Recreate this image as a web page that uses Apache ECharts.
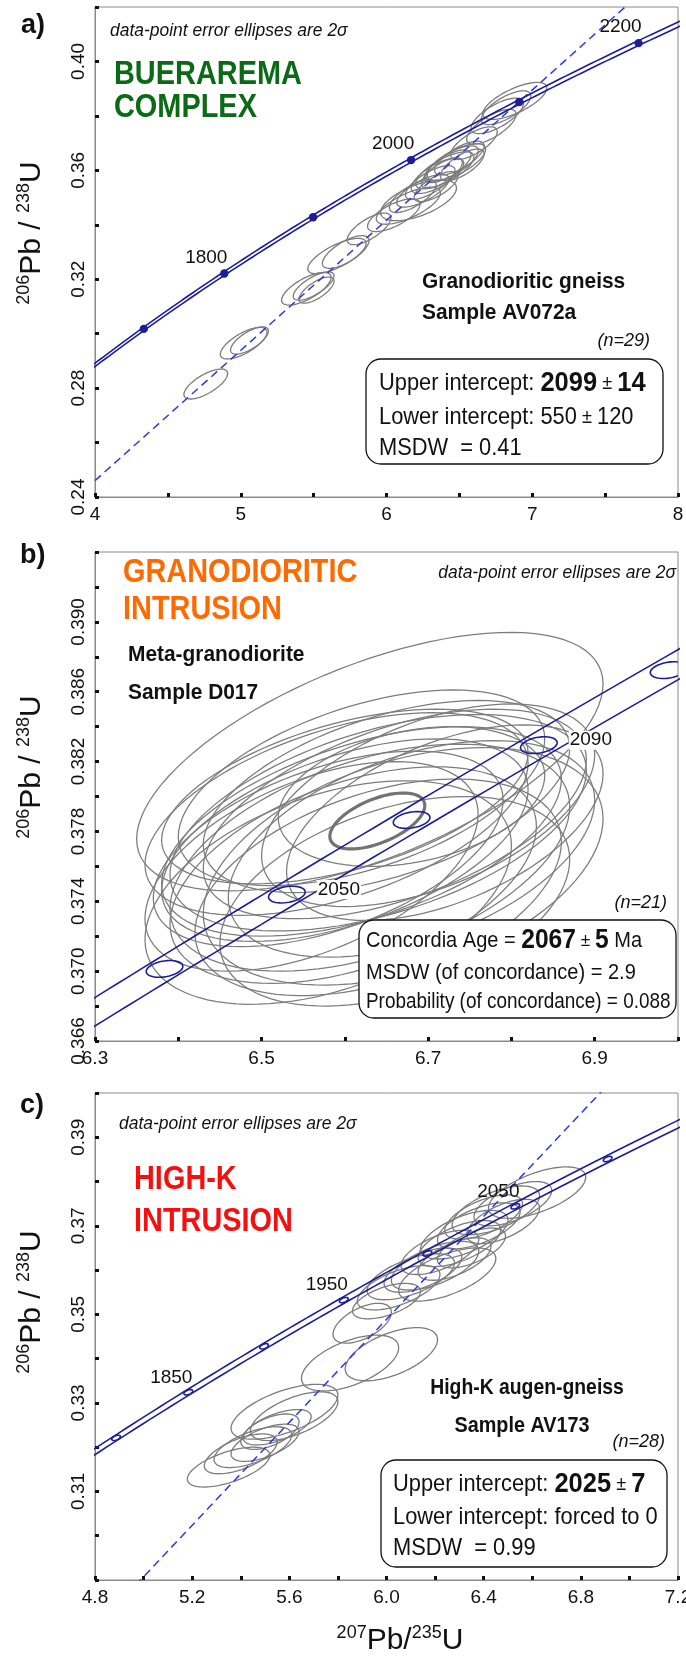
<!DOCTYPE html>
<html>
<head>
<meta charset="utf-8">
<script src="https://cdn.jsdelivr.net/npm/echarts@6/dist/echarts.min.js"></script>
<style>
  html, body { margin: 0; padding: 0; background: #fff; }
  #chart { width: 686px; height: 1657px; }
</style>
</head>
<body>
<div id="chart"></div>
<script>
// U decay constants (1/yr) used to trace the concordia curve
const LAMBDA_238 = 1.55125e-10;
const LAMBDA_235 = 9.8485e-10;
const BAND = 0.0019; // relative lambda-235 spread drawn as the double concordia line

// ---- a) Buerarema complex, granodioritic gneiss AV072a (2-sigma ellipses) ----
const aX   = [4.76, 5.02, 5.06, 5.45, 5.50, 5.52, 5.66, 5.72, 5.88, 6.05, 6.15, 6.22, 6.18, 6.25, 6.30, 6.34, 6.35, 6.38, 6.40, 6.42, 6.45, 6.48, 6.50, 6.52, 6.60, 6.72, 6.76, 6.82, 6.88];
const aY   = [0.2815, 0.2965, 0.2975, 0.3165, 0.3175, 0.3160, 0.3285, 0.3300, 0.3385, 0.3435, 0.3470, 0.3490, 0.3505, 0.3525, 0.3555, 0.3540, 0.3580, 0.3590, 0.3600, 0.3615, 0.3625, 0.3630, 0.3645, 0.3620, 0.3700, 0.3760, 0.3800, 0.3830, 0.3855];
const aSX  = [0.15, 0.16, 0.13, 0.17, 0.14, 0.12, 0.20, 0.16, 0.15, 0.18, 0.22, 0.26, 0.16, 0.18, 0.17, 0.15, 0.18, 0.14, 0.20, 0.16, 0.18, 0.20, 0.17, 0.15, 0.16, 0.17, 0.18, 0.17, 0.22];
const aSY  = [0.0055, 0.0058, 0.0050, 0.0060, 0.0052, 0.0048, 0.0065, 0.0060, 0.0058, 0.0060, 0.0068, 0.0075, 0.0060, 0.0060, 0.0062, 0.0055, 0.0065, 0.0055, 0.0068, 0.0060, 0.0065, 0.0068, 0.0062, 0.0058, 0.0060, 0.0064, 0.0065, 0.0062, 0.0068];
const aRho = [0.70, 0.70, 0.70, 0.70, 0.72, 0.70, 0.72, 0.70, 0.70, 0.68, 0.70, 0.60, 0.70, 0.72, 0.72, 0.70, 0.70, 0.70, 0.72, 0.70, 0.72, 0.70, 0.72, 0.70, 0.70, 0.72, 0.70, 0.70, 0.70];
const aAges = [1700, 1800, 1900, 2000, 2100, 2200];
const aAgeLabels = [1800, 2000, 2200];
const aUpperAge = 2099;
const aLowerAge = 550;

// ---- b) Granodioritic intrusion, meta-granodiorite D017 ----
const bX   = [6.62, 6.60, 6.64, 6.58, 6.66, 6.63, 6.61, 6.68, 6.59, 6.65, 6.70, 6.56, 6.67, 6.64, 6.62, 6.72, 6.60, 6.63, 6.68, 6.58, 6.66];
const bY   = [0.3780, 0.3775, 0.3785, 0.3770, 0.3790, 0.3765, 0.3755, 0.3770, 0.3790, 0.3800, 0.3795, 0.3760, 0.3760, 0.3748, 0.3805, 0.3785, 0.3800, 0.3820, 0.3800, 0.3745, 0.3740];
const bSX  = [0.24, 0.22, 0.25, 0.21, 0.23, 0.24, 0.22, 0.22, 0.23, 0.22, 0.20, 0.20, 0.24, 0.22, 0.22, 0.19, 0.22, 0.28, 0.16, 0.22, 0.21];
const bSY  = [0.0060, 0.0058, 0.0062, 0.0056, 0.0060, 0.0065, 0.0062, 0.0062, 0.0058, 0.0055, 0.0058, 0.0060, 0.0068, 0.0062, 0.0056, 0.0056, 0.0050, 0.0074, 0.0040, 0.0064, 0.0060];
const bRho = [0.50, 0.50, 0.48, 0.50, 0.52, 0.45, 0.45, 0.45, 0.50, 0.50, 0.50, 0.50, 0.40, 0.42, 0.50, 0.50, 0.50, 0.60, 0.30, 0.42, 0.40];
// concordia-age ellipse: x, y, sx, sy, rho
const bMeanEllipse = [6.639, 0.3786, 0.057, 0.0016, 0.55];
const bAges = [2030, 2050, 2070, 2090, 2110];
const bAgeLabels = [2050, 2090];

// ---- c) High-K intrusion, augen-gneiss AV173 ----
const cX   = [5.35, 5.40, 5.45, 5.50, 5.55, 5.58, 5.62, 5.52, 5.85, 6.02, 5.90, 6.00, 6.05, 6.10, 6.15, 6.20, 6.22, 6.28, 6.30, 6.32, 6.38, 6.40, 6.45, 6.48, 6.52, 6.62, 6.35, 6.25];
const cY   = [0.3155, 0.3185, 0.3200, 0.3210, 0.3245, 0.3280, 0.3270, 0.3235, 0.3390, 0.3410, 0.3480, 0.3530, 0.3560, 0.3585, 0.3600, 0.3610, 0.3640, 0.3625, 0.3660, 0.3680, 0.3700, 0.3720, 0.3735, 0.3710, 0.3750, 0.3775, 0.3650, 0.3590];
const cSX  = [0.17, 0.15, 0.16, 0.14, 0.14, 0.22, 0.18, 0.12, 0.20, 0.19, 0.12, 0.14, 0.17, 0.18, 0.16, 0.18, 0.16, 0.15, 0.17, 0.18, 0.17, 0.16, 0.18, 0.15, 0.16, 0.20, 0.14, 0.20];
const cSY  = [0.0045, 0.0045, 0.0046, 0.0042, 0.0040, 0.0062, 0.0055, 0.0040, 0.0063, 0.0060, 0.0045, 0.0040, 0.0050, 0.0052, 0.0050, 0.0055, 0.0050, 0.0048, 0.0052, 0.0055, 0.0052, 0.0050, 0.0055, 0.0050, 0.0050, 0.0058, 0.0045, 0.0060];
const cRho = [0.60, 0.60, 0.60, 0.60, 0.60, 0.60, 0.60, 0.55, 0.55, 0.55, 0.55, 0.55, 0.60, 0.60, 0.60, 0.60, 0.60, 0.60, 0.60, 0.60, 0.60, 0.60, 0.60, 0.60, 0.60, 0.60, 0.60, 0.60];
const cAges = [1800, 1850, 1900, 1950, 2000, 2050, 2100];
const cAgeLabels = [1850, 1950, 2050];
const cUpperAge = 2025;
const cLowerAge = 0;

// ---- styling ----
const SANS = "'Liberation Sans', Arial, sans-serif";
const NARROW = "'Liberation Sans Narrow', 'Liberation Sans', Arial, sans-serif";
const NAVY = '#1d1d9a';
const DASH = '#2b3de0';
const GREY = '#7c7c7c';
const INK = '#111111';
// horizontal squeeze giving the condensed look of the annotation type
const SQ_TITLE = 0.85, SQ_BOX = 0.91, SQ_NOTE = 0.97, SQ_SAMPLE = 0.95;

// ---- helpers ----
function concX(tMa, k) { return Math.exp(LAMBDA_235 * (1 + k) * tMa * 1e6) - 1; }
function concY(tMa) { return Math.exp(LAMBDA_238 * tMa * 1e6) - 1; }

function concordiaLine(t0, t1, step, k) {
  const pts = [];
  for (let t = t0; t <= t1 + 1e-9; t += step) pts.push([concX(t, k), concY(t)]);
  return pts;
}

function discordia(tUp, tLow, xFrom, xTo) {
  const x1 = concX(tLow, 0), y1 = concY(tLow);
  const x2 = concX(tUp, 0), y2 = concY(tUp);
  const s = (y2 - y1) / (x2 - x1);
  return [[xFrom, y1 + (xFrom - x1) * s], [xTo, y1 + (xTo - x1) * s]];
}

function zipEllipses(xs, ys, sxs, sys, rhos) {
  return xs.map((x, i) => [x, ys[i], sxs[i], sys[i], rhos[i]]);
}

function ellipsePoints(api, cx, cy, sx, sy, rho, n) {
  const r = Math.sqrt(Math.max(0, 1 - rho * rho));
  const pts = [];
  for (let i = 0; i < n; i++) {
    const a = 2 * Math.PI * i / n;
    pts.push(api.coord([cx + sx * Math.cos(a), cy + sy * (rho * Math.cos(a) + r * Math.sin(a))]));
  }
  return pts;
}

function ellipseRenderer(stroke, width) {
  return function (params, api) {
    return {
      type: 'polygon',
      shape: { points: ellipsePoints(api, api.value(0), api.value(1), api.value(2), api.value(3), api.value(4), 96) },
      style: { fill: 'none', stroke: stroke, lineWidth: width }
    };
  };
}

// age ticks on the concordia: dots (a) or small decay-constant ellipses (b, c)
function markerRenderer(kind, msx, msy, mrho, dx, dy, bg) {
  return function (params, api) {
    const x = api.value(0), y = api.value(1), age = api.value(2), lab = api.value(3);
    const p = api.coord([x, y]);
    const children = [];
    if (kind === 'dot') {
      children.push({ type: 'circle', shape: { cx: p[0], cy: p[1], r: 4.2 }, style: { fill: NAVY } });
    } else {
      children.push({
        type: 'polygon',
        shape: { points: ellipsePoints(api, x, y, msx, msy, mrho, 48) },
        style: { fill: 'none', stroke: NAVY, lineWidth: 1.6 }
      });
    }
    if (lab) {
      children.push({
        type: 'text', x: p[0] + dx, y: p[1] + dy,
        style: {
          text: String(age), font: '19px ' + SANS, fill: INK,
          align: 'center', verticalAlign: 'middle',
          textAlign: 'center', textVerticalAlign: 'middle',
          backgroundColor: bg || 'transparent', padding: bg ? [0, 1] : 0
        }
      });
    }
    return { type: 'group', children: children };
  };
}

function markers(ages, labels) {
  return ages.map(t => [concX(t, 0), concY(t), t, labels.indexOf(t) >= 0 ? 1 : 0]);
}

function axisX(i, min, max, interval, formatter) {
  return {
    type: 'value', gridIndex: i, min: min, max: max, interval: interval,
    axisLine: { show: true, onZero: false, lineStyle: { color: '#8a8a8a', width: 1 } },
    axisTick: { show: true, inside: true, length: 4, lineStyle: { color: INK, width: 3 } },
    splitLine: { show: false },
    axisLabel: { color: INK, fontSize: 19, fontFamily: SANS, margin: 8, formatter: formatter, hideOverlap: false, showMinLabel: true, showMaxLabel: true }
  };
}

function axisY(i, min, max, interval, formatter) {
  return {
    type: 'value', gridIndex: i, min: min, max: max, interval: interval,
    axisLine: { show: true, onZero: false, lineStyle: { color: '#8a8a8a', width: 1 } },
    axisTick: { show: true, inside: true, length: 4, lineStyle: { color: INK, width: 3 } },
    splitLine: { show: false },
    axisLabel: { color: INK, fontSize: 19, fontFamily: SANS, margin: 7, rotate: 90, formatter: formatter, hideOverlap: false, showMinLabel: true, showMaxLabel: true }
  };
}

function lineSeries(i, data, color, width, dashed) {
  return {
    type: 'line', xAxisIndex: i, yAxisIndex: i, data: data, showSymbol: false, symbol: 'none',
    clip: true, silent: true, smooth: false, z: 4,
    lineStyle: { color: color, width: width, type: dashed ? [8, 5] : 'solid' }
  };
}

function text(x, y, str, font, fill, align, squeeze) {
  return {
    type: 'text', x: x, y: y, z: 100, silent: true, scaleX: squeeze || 1, scaleY: 1,
    style: {
      text: str, font: font, fill: fill || INK,
      align: align || 'left', verticalAlign: 'middle',
      textAlign: align || 'left', textVerticalAlign: 'middle'
    }
  };
}

function richText(x, y, str, rich, align, rotation, squeeze) {
  return {
    type: 'text', x: x, y: y, z: 100, silent: true, rotation: rotation || 0,
    scaleX: squeeze || 1, scaleY: 1,
    style: {
      text: str, rich: rich, fill: INK,
      align: align || 'left', verticalAlign: 'middle',
      textAlign: align || 'left', textVerticalAlign: 'middle'
    }
  };
}

function box(x, y, w, h) {
  return {
    type: 'rect', z: 90, silent: true,
    shape: { x: x, y: y, width: w, height: h, r: 15 },
    style: { fill: '#ffffff', stroke: INK, lineWidth: 1.3 }
  };
}

const boxRich = (n, b, p) => ({
  n: { fontSize: n, fontFamily: NARROW, fill: INK },
  b: { fontSize: b, fontFamily: NARROW, fontWeight: 'bold', fill: INK },
  p: { fontSize: p, fontFamily: NARROW, fill: INK }
});

const isoRich = (big, small) => ({
  s: { fontSize: small, fontFamily: SANS, fill: INK, lineHeight: small + 2, verticalAlign: 'top' },
  m: { fontSize: big, fontFamily: SANS, fill: INK, lineHeight: big + 4 }
});

// ---- plot frames (pixels) ----
const GL = 95, GW = 583;
const grids = [
  { left: GL, width: GW, top: 7, height: 490 },
  { left: GL, width: GW, top: 552, height: 489 },
  { left: GL, width: GW, top: 1093, height: 487 }
].map(g => Object.assign({ show: true, borderColor: '#8a8a8a', borderWidth: 1, containLabel: false, outerBoundsMode: 'none' }, g));

const option = {
  animation: false,
  backgroundColor: '#ffffff',
  grid: grids,
  xAxis: [
    axisX(0, 4, 8, 0.5, v => (Math.round(v * 2) % 2 === 0 ? String(Math.round(v)) : '')),
    axisX(1, 6.3, 7.0, 0.1, v => { const k = Math.round(v * 10); return (k % 2 === 1 && k < 70) ? v.toFixed(1) : ''; }),
    axisX(2, 4.8, 7.2, 0.2, v => (Math.round(v * 10) % 4 === 0 ? v.toFixed(1) : ''))
  ],
  yAxis: [
    axisY(0, 0.24, 0.42, 0.02, v => { const k = Math.round(v * 100); return (k % 4 === 0 && k < 42) ? v.toFixed(2) : ''; }),
    axisY(1, 0.366, 0.394, 0.002, v => { const k = Math.round(v * 1000); return (k % 4 === 2 && k < 394) ? v.toFixed(3) : ''; }),
    axisY(2, 0.29, 0.40, 0.01, v => { const k = Math.round(v * 100); return (k % 2 === 1 && k > 29 && k < 40) ? v.toFixed(2) : ''; })
  ],
  series: [
    // a)
    { type: 'custom', xAxisIndex: 0, yAxisIndex: 0, clip: true, silent: true, z: 2, encode: { x: 0, y: 1 },
      data: zipEllipses(aX, aY, aSX, aSY, aRho), renderItem: ellipseRenderer(GREY, 1.3) },
    lineSeries(0, discordia(aUpperAge, aLowerAge, 3.8, 8.2), DASH, 1.5, true),
    lineSeries(0, concordiaLine(1550, 2350, 5, BAND), NAVY, 1.6, false),
    lineSeries(0, concordiaLine(1550, 2350, 5, -BAND), NAVY, 1.6, false),
    { type: 'custom', xAxisIndex: 0, yAxisIndex: 0, clip: true, silent: true, z: 6, encode: { x: 0, y: 1 },
      data: markers(aAges, aAgeLabels), renderItem: markerRenderer('dot', 0, 0, 0, -18, -16, null) },

    // b)
    { type: 'custom', xAxisIndex: 1, yAxisIndex: 1, clip: true, silent: true, z: 2, encode: { x: 0, y: 1 },
      data: zipEllipses(bX, bY, bSX, bSY, bRho), renderItem: ellipseRenderer(GREY, 1.25) },
    { type: 'custom', xAxisIndex: 1, yAxisIndex: 1, clip: true, silent: true, z: 3, encode: { x: 0, y: 1 },
      data: [bMeanEllipse], renderItem: ellipseRenderer('#737373', 3.2) },
    lineSeries(1, concordiaLine(1990, 2140, 2, BAND), NAVY, 1.6, false),
    lineSeries(1, concordiaLine(1990, 2140, 2, -BAND), NAVY, 1.6, false),
    { type: 'custom', xAxisIndex: 1, yAxisIndex: 1, clip: true, silent: true, z: 6, encode: { x: 0, y: 1 },
      data: markers(bAges, bAgeLabels), renderItem: markerRenderer('ellipse', 0.022, 0.00048, 0.3, 52, -5, '#ffffff') },

    // c)
    { type: 'custom', xAxisIndex: 2, yAxisIndex: 2, clip: true, silent: true, z: 2, encode: { x: 0, y: 1 },
      data: zipEllipses(cX, cY, cSX, cSY, cRho), renderItem: ellipseRenderer(GREY, 1.3) },
    lineSeries(2, discordia(cUpperAge, cLowerAge, 4.6, 7.4), DASH, 1.5, true),
    lineSeries(2, concordiaLine(1700, 2200, 5, BAND), NAVY, 1.6, false),
    lineSeries(2, concordiaLine(1700, 2200, 5, -BAND), NAVY, 1.6, false),
    { type: 'custom', xAxisIndex: 2, yAxisIndex: 2, clip: true, silent: true, z: 6, encode: { x: 0, y: 1 },
      data: markers(cAges, cAgeLabels), renderItem: markerRenderer('ellipse', 0.018, 0.0006, 0.5, -17, -15, null) }
  ],
  graphic: { elements: [
    // panel letters
    text(21, 26, 'a)', 'bold 27px ' + SANS),
    text(20, 556, 'b)', 'bold 27px ' + SANS),
    text(20, 1106, 'c)', 'bold 27px ' + SANS),

    // axis titles
    richText(32, 233, '{s|206}{m|Pb / }{s|238}{m|U}', isoRich(30, 18), 'center', Math.PI / 2),
    richText(32, 767, '{s|206}{m|Pb / }{s|238}{m|U}', isoRich(30, 18), 'center', Math.PI / 2),
    richText(32, 1302, '{s|206}{m|Pb / }{s|238}{m|U}', isoRich(30, 18), 'center', Math.PI / 2),
    richText(400, 1641, '{s|207}{m|Pb/}{s|235}{m|U}', isoRich(30, 18), 'center', 0),

    // a) annotations
    text(110, 31, 'data-point error ellipses are 2σ', 'italic 18px ' + NARROW, INK, 'left', SQ_NOTE),
    text(114, 75, 'BUERAREMA', 'bold 34px ' + NARROW, '#0b6a16', 'left', SQ_TITLE),
    text(114, 108, 'COMPLEX', 'bold 34px ' + NARROW, '#0b6a16', 'left', SQ_TITLE),
    text(422, 282, 'Granodioritic gneiss', 'bold 22px ' + NARROW, INK, 'left', SQ_SAMPLE),
    text(422, 313, 'Sample AV072a', 'bold 22px ' + NARROW, INK, 'left', SQ_SAMPLE),
    text(650, 341, '(n=29)', 'italic 18px ' + NARROW, INK, 'right'),
    box(366, 359, 297, 105),
    richText(379, 383, '{n|Upper intercept: }{b|2099}{p| ± }{b|14}', boxRich(24, 28, 20), 'left', 0, SQ_BOX),
    richText(379, 417, '{n|Lower intercept: 550}{p| ± }{n|120}', boxRich(24, 28, 20), 'left', 0, SQ_BOX),
    richText(379, 448, '{n|MSDW  = 0.41}', boxRich(24, 28, 20), 'left', 0, SQ_BOX),

    // b) annotations
    text(676, 573, 'data-point error ellipses are 2σ', 'italic 18px ' + NARROW, INK, 'right', SQ_NOTE),
    text(123, 573, 'GRANODIORITIC', 'bold 34px ' + NARROW, '#ff6a00', 'left', SQ_TITLE),
    text(123, 610, 'INTRUSION', 'bold 34px ' + NARROW, '#ff6a00', 'left', SQ_TITLE),
    text(128, 655, 'Meta-granodiorite', 'bold 22px ' + NARROW, INK, 'left', SQ_SAMPLE),
    text(128, 693, 'Sample D017', 'bold 22px ' + NARROW, INK, 'left', SQ_SAMPLE),
    text(667, 903, '(n=21)', 'italic 18px ' + NARROW, INK, 'right'),
    box(359, 920, 317, 98),
    richText(366, 941, '{n|Concordia Age = }{b|2067}{p| ± }{b|5}{n| Ma}', boxRich(22, 27, 19), 'left', 0, SQ_BOX),
    richText(366, 973, '{n|MSDW (of concordance) = 2.9}', boxRich(22, 27, 19), 'left', 0, SQ_BOX),
    richText(366, 1002, '{n|Probability (of concordance) = 0.088}', boxRich(22, 27, 19), 'left', 0, 0.86),

    // c) annotations
    text(119, 1124, 'data-point error ellipses are 2σ', 'italic 18px ' + NARROW, INK, 'left', SQ_NOTE),
    text(134, 1180, 'HIGH-K', 'bold 34px ' + NARROW, '#f50f0f', 'left', SQ_TITLE),
    text(134, 1222, 'INTRUSION', 'bold 34px ' + NARROW, '#f50f0f', 'left', SQ_TITLE),
    text(527, 1388, 'High-K augen-gneiss', 'bold 22px ' + NARROW, INK, 'center', 0.88),
    text(522, 1426, 'Sample AV173', 'bold 22px ' + NARROW, INK, 'center', 0.9),
    text(665, 1442, '(n=28)', 'italic 18px ' + NARROW, INK, 'right'),
    box(381, 1460, 286, 107),
    richText(393, 1484, '{n|Upper intercept: }{b|2025}{p| ± }{b|7}', boxRich(24, 28, 20), 'left', 0, SQ_BOX),
    richText(393, 1517, '{n|Lower intercept: forced to 0}', boxRich(24, 28, 20), 'left', 0, SQ_BOX),
    richText(393, 1548, '{n|MSDW  = 0.99}', boxRich(24, 28, 20), 'left', 0, SQ_BOX)
  ] }
};

const chart = echarts.init(document.getElementById('chart'), null, { renderer: 'canvas', width: 686, height: 1657 });
chart.setOption(option);
</script>
</body>
</html>
